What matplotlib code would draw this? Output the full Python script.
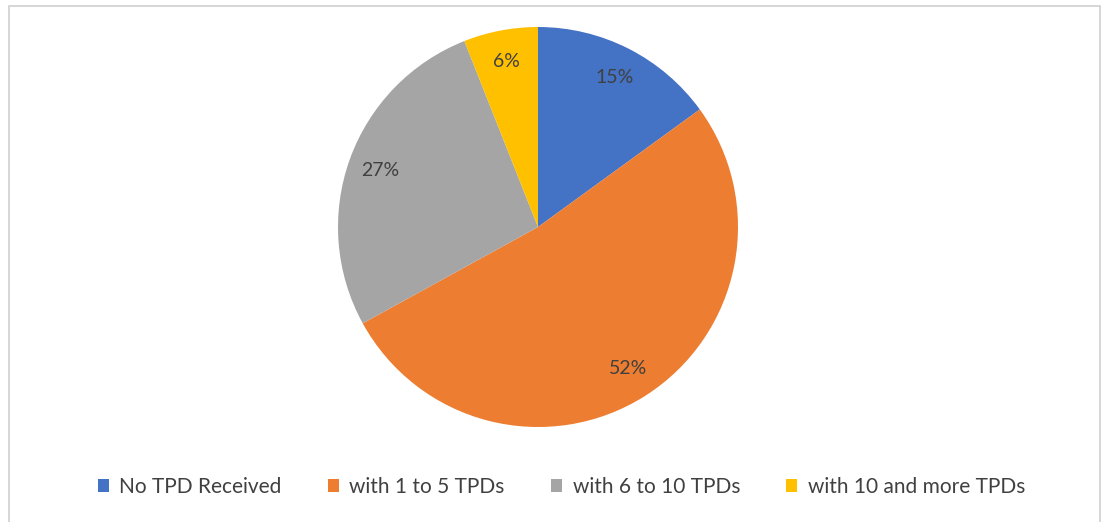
import matplotlib.pyplot as plt
from matplotlib.patches import Rectangle, Patch

# Data
categories = ['No TPD Received', 'with 1 to 5 TPDs', 'with 6 to 10 TPDs', 'with 10 and more TPDs']
shares = [15, 52, 27, 6]
colors = ['#4472C4', '#ED7D31', '#A5A5A5', '#FFC000']

fig = plt.figure(figsize=(11.05, 5.22), dpi=100)
fig.patch.set_facecolor('white')

# chart frame
fig.patches.append(Rectangle((9/1105, -0.05), 1091/1105, 1.05 - 6/522,
                             transform=fig.transFigure, fill=False,
                             edgecolor='#d0d0d0', linewidth=1.2))

ax = fig.add_axes([338/1105, 95/522, 400/1105, 400/522])
wedges, texts, autotexts = ax.pie(shares, colors=colors, startangle=90, counterclock=False,
                                  autopct='%d%%', pctdistance=0.84,
                                  wedgeprops=dict(linewidth=0))
for t in autotexts:
    t.set_fontsize(14)
    t.set_color('#404040')
    t.set_family('Lato')
ax.set_xlim(-1, 1)
ax.set_ylim(-1, 1)
ax.set_aspect('equal')

handles = [Patch(facecolor=c, edgecolor='none') for c in colors]
fig.legend(handles, categories, loc='center', bbox_to_anchor=(0.508, 1 - 487/522),
           ncol=4, frameon=False, handlelength=0.55, handleheight=0.55,
           handletextpad=0.5, columnspacing=2.2,
           prop={'family': 'Lato', 'size': 15}, labelcolor='#404040')

fig.savefig('out.png', dpi=100)
